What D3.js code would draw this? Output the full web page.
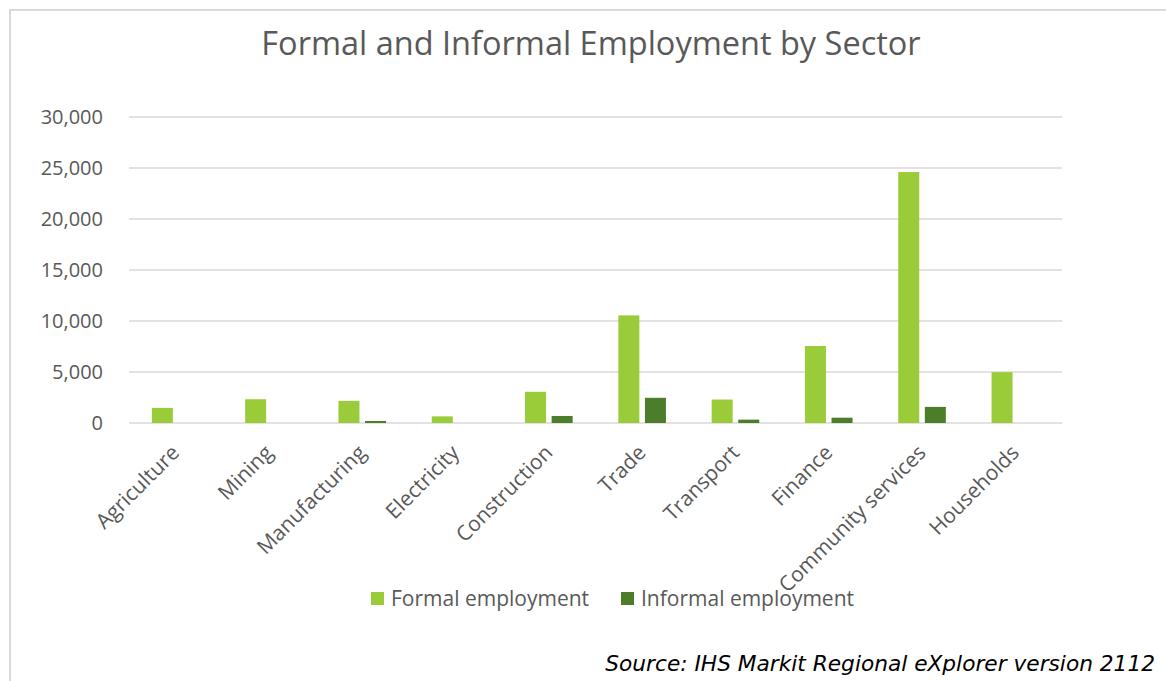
<!DOCTYPE html>
<html>
<head>
<meta charset="utf-8">
<script src="https://cdn.jsdelivr.net/npm/d3@7"></script>
<style>
  html, body { margin: 0; padding: 0; background: #fff; }
  svg { display: block; }
</style>
</head>
<body>
<svg id="chart" width="1166" height="681"></svg>
<script>
// Employment by sector, formal vs informal
const sectors = ["Agriculture", "Mining", "Manufacturing", "Electricity", "Construction",
                 "Trade", "Transport", "Finance", "Community services", "Households"];
const formalEmployment   = [1480, 2330, 2170, 650, 3060, 10550, 2300, 7550, 24600, 4980];
const informalEmployment = [0, 0, 200, 0, 690, 2470, 330, 520, 1580, 0];
const seriesNames = ["Formal employment", "Informal employment"];
const seriesColors = ["#9acb38", "#4b7d2a"];
const yTicks = [0, 5000, 10000, 15000, 20000, 25000, 30000];

const svg = d3.select("#chart");
const W = 1166, H = 681;
const plot = { left: 129, right: 1062, top: 117, bottom: 423 };
const textColor = "#595959";
const font = "'Open Sans', sans-serif";

// outer frame
svg.append("path")
  .attr("d", `M10,${H} L10,10 L${W},10`)
  .attr("fill", "none").attr("stroke", "#d9d9d9").attr("stroke-width", 2);

// title
svg.append("text")
  .attr("x", 591).attr("y", 55)
  .attr("text-anchor", "middle")
  .attr("font-family", font).attr("font-size", 32.5).attr("fill", textColor)
  .text("Formal and Informal Employment by Sector");

const x0 = d3.scaleBand().domain(sectors).range([plot.left, plot.right])
  .paddingInner(0.49).paddingOuter(0.245);
const x1 = d3.scaleBand().domain(seriesNames).range([0, x0.bandwidth()])
  .paddingInner(0.21).paddingOuter(0);
const y = d3.scaleLinear().domain([0, 30000]).range([plot.bottom, plot.top]);

// gridlines
svg.append("g").selectAll("line").data(yTicks).join("line")
  .attr("x1", plot.left).attr("x2", plot.right)
  .attr("y1", d => y(d)).attr("y2", d => y(d))
  .attr("stroke", "#d9d9d9").attr("stroke-width", 1.5);

// y axis labels
const yAxis = d3.axisLeft(y).tickValues(yTicks).tickFormat(d3.format(",")).tickSize(0).tickPadding(0);
const yg = svg.append("g").attr("transform", `translate(103,0)`).call(yAxis);
yg.select(".domain").remove();
yg.selectAll("text").attr("font-family", font).attr("font-size", 20).attr("fill", textColor);

// bars
const rows = sectors.map((s, i) => ({ sector: s, values: [formalEmployment[i], informalEmployment[i]] }));
const groups = svg.append("g").selectAll("g").data(rows).join("g")
  .attr("transform", d => `translate(${x0(d.sector)},0)`);
groups.selectAll("rect")
  .data(d => d.values.map((v, k) => ({ key: seriesNames[k], value: v, k })))
  .join("rect")
  .attr("x", d => x1(d.key))
  .attr("width", x1.bandwidth())
  .attr("y", d => y(d.value))
  .attr("height", d => y(0) - y(d.value))
  .attr("fill", d => seriesColors[d.k]);

// x axis labels, rotated
const xAxis = d3.axisBottom(x0).tickSize(0).tickPadding(0);
const xg = svg.append("g").attr("transform", `translate(0,${plot.bottom})`).call(xAxis);
xg.select(".domain").remove();
xg.selectAll("text")
  .attr("font-family", font).attr("font-size", 21).attr("fill", textColor)
  .attr("text-anchor", "end")
  .attr("dy", null).attr("y", 0)
  .attr("transform", "translate(5,31) rotate(-45)");

// legend
const legend = svg.append("g").attr("transform", "translate(371,592)");
const lx = [0, 250];
seriesNames.forEach((name, k) => {
  const g = legend.append("g").attr("transform", `translate(${lx[k]},0)`);
  g.append("rect").attr("width", 13).attr("height", 13).attr("fill", seriesColors[k]);
  g.append("text").attr("x", 20).attr("y", 14)
    .attr("font-family", font).attr("font-size", 21).attr("fill", textColor)
    .text(name);
});

// source note
svg.append("text")
  .attr("x", 1155).attr("y", 671)
  .attr("text-anchor", "end")
  .attr("font-family", "'DejaVu Sans', Verdana, sans-serif")
  .attr("font-style", "italic").attr("font-size", 21.7).attr("fill", "#000")
  .text("Source: IHS Markit Regional eXplorer version 2112");
</script>
</body>
</html>
